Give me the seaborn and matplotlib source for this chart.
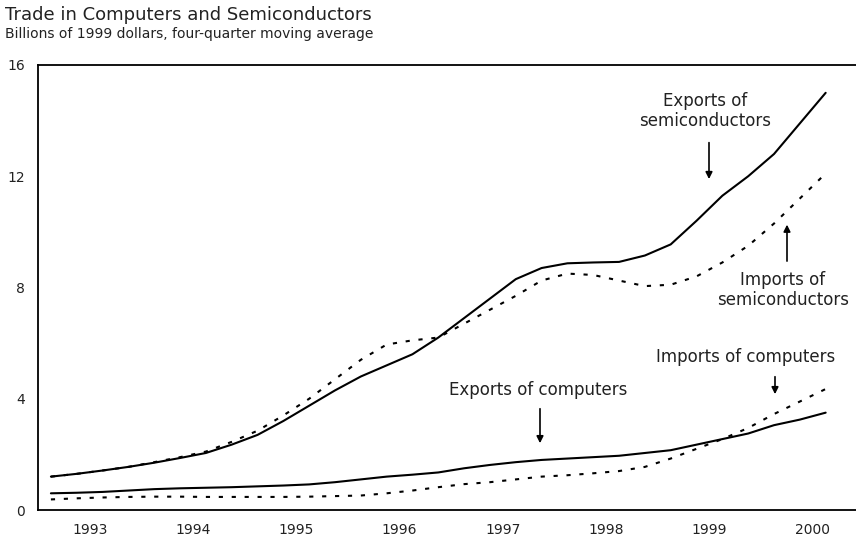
import numpy as np
import pandas as pd
import matplotlib
matplotlib.use("Agg")
import matplotlib.pyplot as plt
import seaborn as sns

# ─── Data (billions of 1999 dollars, quarterly, 1993Q1-2000Q3) ────────────────
years = np.arange(1993, 2001)
quarters = [y + (q - 0.5) / 4 for y in years for q in range(1, 5)][:31]

exports_semi = [1.2, 1.3, 1.42, 1.55,
                1.7, 1.87, 2.05, 2.35,
                2.7, 3.2, 3.75, 4.3,
                4.8, 5.2, 5.6, 6.2,
                6.9, 7.6, 8.3, 8.7,
                8.87, 8.9, 8.92, 9.15,
                9.55, 10.4, 11.3, 12.0,
                12.8, 13.9, 15.0]
imports_semi = [1.2, 1.3, 1.42, 1.55,
                1.72, 1.9, 2.1, 2.45,
                2.85, 3.4, 4.0, 4.7,
                5.4, 5.95, 6.1, 6.2,
                6.7, 7.2, 7.7, 8.25,
                8.5, 8.45, 8.25, 8.05,
                8.1, 8.4, 8.9, 9.5,
                10.3, 11.2, 12.1]
exports_comp = [0.6, 0.62, 0.65, 0.7,
                0.75, 0.78, 0.8, 0.82,
                0.85, 0.88, 0.92, 1.0,
                1.1, 1.2, 1.27, 1.35,
                1.5, 1.62, 1.72, 1.8,
                1.85, 1.9, 1.95, 2.05,
                2.15, 2.35, 2.55, 2.75,
                3.05, 3.25, 3.5]
imports_comp = [0.38, 0.42, 0.45, 0.47,
                0.48, 0.48, 0.47, 0.47,
                0.47, 0.47, 0.48, 0.5,
                0.52, 0.6, 0.7, 0.82,
                0.93, 1.0, 1.1, 1.2,
                1.25, 1.32, 1.4, 1.55,
                1.85, 2.2, 2.55, 2.95,
                3.45, 3.9, 4.35]

year_labels = [str(y) for y in years]
y_ticks = [0, 4, 8, 12, 16]

# ─── Style ───────────────────────────────────────────────────────────────────
sns.set_theme(style="white")
plt.rcParams["font.family"] = ["DejaVu Sans"]
INK = "#222222"

fig = plt.figure(figsize=(8.56, 5.39), dpi=100)
ax = fig.add_axes([38 / 856, 1 - 510 / 539, 1 - 38 / 856, (510 - 65) / 539])

df = pd.DataFrame({"t": quarters,
                   "es": exports_semi, "is": imports_semi,
                   "ec": exports_comp, "ic": imports_comp})

dotted = (0, (2, 4.2))
sns.lineplot(data=df, x="t", y="es", ax=ax, color="black", lw=1.5)
sns.lineplot(data=df, x="t", y="is", ax=ax, color="black", lw=1.5, linestyle=dotted)
sns.lineplot(data=df, x="t", y="ec", ax=ax, color="black", lw=1.5)
sns.lineplot(data=df, x="t", y="ic", ax=ax, color="black", lw=1.5, linestyle=dotted)

ax.set_xlim(1993, 1993 + (856 - 38) / 103.3)
ax.set_ylim(0, 16)
ax.set_xlabel("")
ax.set_ylabel("")

# year boundaries get the tick marks, mid-year positions carry the labels
ax.set_xticks(years[1:])
ax.set_xticklabels([])
ax.set_xticks(years + 0.5, minor=True)
ax.set_xticklabels(year_labels, minor=True)
ax.tick_params(axis="x", which="major", direction="in", length=4, width=1, color="black")
ax.tick_params(axis="x", which="minor", length=0, pad=9.5, labelsize=10, labelcolor=INK)
ax.set_yticks(y_ticks)
ax.set_yticklabels([str(v) for v in y_ticks])
ax.tick_params(axis="y", direction="in", length=4, width=1, color="black",
               pad=9.5, labelsize=10, labelcolor=INK)

for side in ["left", "bottom", "top"]:
    ax.spines[side].set_color("black")
    ax.spines[side].set_linewidth(1.3)
ax.spines["right"].set_visible(False)

# ─── Annotations ─────────────────────────────────────────────────────────────
def to_data(px, py):
    return 1993 + (px - 38) / 103.3, (510 - py) / 27.8

txt = dict(fontsize=12, color=INK, linespacing=1.15)
arrow = dict(arrowstyle="-|>", color="black", lw=1.2, mutation_scale=10)

ax.text(*to_data(705, 111), "Exports of\nsemiconductors", ha="center", va="center", **txt)
ax.annotate("", xy=to_data(709, 182), xytext=to_data(709, 140), arrowprops=arrow)

ax.text(*to_data(783, 290), "Imports of\nsemiconductors", ha="center", va="center", **txt)
ax.annotate("", xy=to_data(787, 222), xytext=to_data(787, 264), arrowprops=arrow)

ax.text(*to_data(538, 390), "Exports of computers", ha="center", va="center", **txt)
ax.annotate("", xy=to_data(540, 446), xytext=to_data(540, 406), arrowprops=arrow)

ax.text(*to_data(746, 357), "Imports of computers", ha="center", va="center", **txt)
ax.annotate("", xy=to_data(775, 397), xytext=to_data(775, 374), arrowprops=arrow)

fig.text(5 / 856, 1 - 15 / 539, "Trade in Computers and Semiconductors",
         fontsize=13, color=INK, va="center", ha="left")
fig.text(5 / 856, 1 - 34 / 539, "Billions of 1999 dollars, four-quarter moving average",
         fontsize=10, color=INK, va="center", ha="left")

fig.savefig("out.png", dpi=100)
